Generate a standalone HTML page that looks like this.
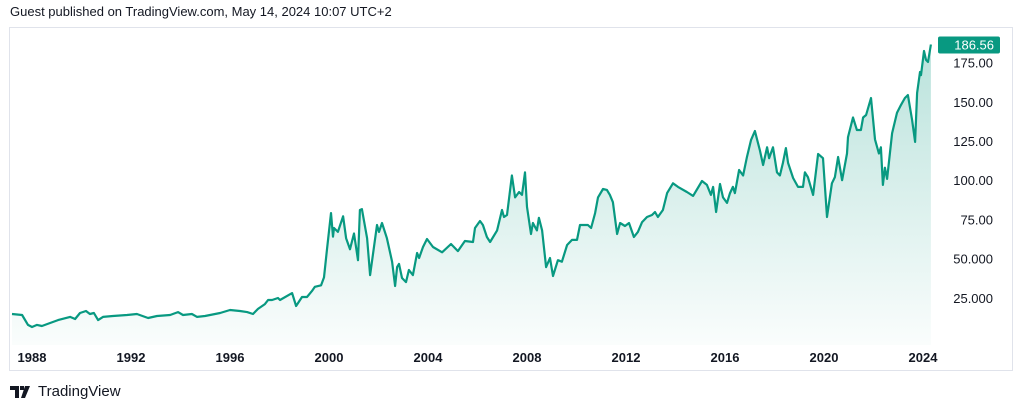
<!DOCTYPE html>
<html><head><meta charset="utf-8"><style>
body{margin:0;background:#fff;width:1024px;height:410px;overflow:hidden;font-family:"Liberation Sans",sans-serif;}
#hdr{position:absolute;left:10px;top:4px;font-size:13px;color:#131722;}
#box{position:absolute;left:9px;top:27px;width:1004px;height:344px;border:1px solid #e0e3eb;box-sizing:border-box;}
#logo{position:absolute;left:10px;top:383px;font-size:15px;color:#131722;display:flex;align-items:center;gap:6px;}
svg{position:absolute;left:0;top:0;}
</style></head><body>
<div id="hdr">Guest published on TradingView.com, May 14, 2024 10:07 UTC+2</div>
<div id="box"></div>
<svg id="chart" width="1024" height="410">
<defs><linearGradient id="g" x1="0" y1="0" x2="0" y2="1">
<stop offset="0" stop-color="#089981" stop-opacity="0.28"/>
<stop offset="1" stop-color="#089981" stop-opacity="0.02"/></linearGradient></defs>
</svg>
<div id="logo"><svg style="position:static" width="22" height="12" viewBox="0 0 22 12"><path d="M0 0h9v12H5V4H0z M10 0h4v4h-4z M15 0h5l-5 12h-4z" fill="#131722"/></svg><span>TradingView</span></div>
<script>
const years=[1987.19,1987.60,1987.84,1988.00,1988.20,1988.40,1988.73,1989.05,1989.54,1989.74,1989.94,1990.18,1990.34,1990.50,1990.67,1990.87,1991.27,1991.84,1992.24,1992.69,1993.05,1993.58,1993.90,1994.10,1994.46,1994.67,1994.99,1995.60,1996.00,1996.40,1996.69,1996.93,1997.13,1997.41,1997.54,1997.70,1997.94,1998.02,1998.51,1998.67,1998.91,1999.11,1999.31,1999.43,1999.68,1999.80,1999.92,2000.08,2000.16,2000.20,2000.36,2000.57,2000.69,2000.85,2001.01,2001.17,2001.25,2001.33,2001.54,2001.66,2001.94,2002.02,2002.14,2002.34,2002.55,2002.67,2002.75,2002.83,2002.95,2003.11,2003.23,2003.39,2003.56,2003.64,2003.80,2003.96,2004.20,2004.57,2004.93,2005.21,2005.49,2005.82,2005.90,2006.10,2006.22,2006.38,2006.51,2006.79,2006.99,2007.07,2007.19,2007.39,2007.52,2007.68,2007.80,2007.92,2008.00,2008.16,2008.24,2008.40,2008.48,2008.61,2008.77,2008.93,2009.05,2009.25,2009.41,2009.62,2009.82,2010.02,2010.14,2010.46,2010.59,2010.75,2010.87,2011.07,2011.23,2011.35,2011.47,2011.64,2011.76,2011.96,2012.12,2012.32,2012.48,2012.65,2012.85,2013.05,2013.17,2013.29,2013.49,2013.66,2013.90,2014.10,2014.46,2014.71,2015.07,2015.27,2015.43,2015.52,2015.64,2015.80,2015.92,2016.08,2016.20,2016.32,2016.40,2016.57,2016.73,2016.89,2017.05,2017.21,2017.41,2017.54,2017.70,2017.78,2017.94,2018.10,2018.22,2018.34,2018.46,2018.55,2018.75,2018.95,2019.15,2019.23,2019.35,2019.56,2019.76,2019.96,2020.12,2020.32,2020.44,2020.57,2020.73,2020.93,2020.97,2021.17,2021.33,2021.49,2021.58,2021.70,2021.90,2022.06,2022.22,2022.30,2022.38,2022.46,2022.55,2022.75,2022.95,2023.11,2023.27,2023.39,2023.56,2023.68,2023.76,2023.88,2023.92,2024.04,2024.12,2024.20,2024.32];
const prices=[14.7,14.0,7.7,6.4,7.7,7.0,8.9,10.8,12.8,11.5,15.3,16.6,14.7,15.3,10.8,12.8,13.4,14.0,14.7,12.1,13.4,14.0,15.9,14.0,14.7,12.8,13.4,15.3,17.2,16.6,15.9,14.7,17.9,21.0,23.6,23.6,24.9,23.6,28,19.8,25.5,25.5,29.3,32,33,38,56,79,64,69.5,67,77,63,56,66,49,81,81.6,63,39.5,71.4,67,72.7,63,48,32.5,44.6,46.6,37.6,35,42.7,39.5,53.6,50.4,57.4,62.5,57.4,54,59.3,54.8,61.2,60.6,69.5,74,71.4,63.8,60.6,68,81,76.5,77.8,103,89,92.5,90.6,105,83,65.7,72.7,68,76,68,44.6,50.4,38.9,49,48,58.7,61.9,61.9,71.4,71.4,69.5,79,89,94.4,93.8,90.6,86,65.7,72.7,70.8,72.7,63.8,67,73.3,76.5,77.8,79.7,76.5,81,91.8,98,95.7,92.5,90,99.5,97,90.6,95.7,79.7,97.6,89,85.5,91.8,95.7,91.8,106.5,103,115,125.6,131.4,119,109.7,121,114,121,105,103,111,120.5,111,101.4,95.7,95.7,105,102,90.6,116.7,114,76.5,98,102,114.8,100,117,127.5,140,132,132,140,141.6,152.4,126,117,121,97,108,100.8,130,143,148,152.4,154.3,138.4,124.4,155.6,169,167,182.4,176.7,175.4,186.56];
const priceTicks=[25,50,75,100,125,150,175];
const priceTickLabels=["25.000","50.000","75.00","100.00","125.00","150.00","175.00"];
const yearTicks=[1988,1992,1996,2000,2004,2008,2012,2016,2020,2024];
const lastLabel="186.56";
const X=t=>32+(t-1988)*24.75;
const Y=v=>337-v*1.568;
const NS="http://www.w3.org/2000/svg";
const svg=document.getElementById('chart');
function mk(tag,at){const e=document.createElementNS(NS,tag);for(const k in at)e.setAttribute(k,at[k]);svg.appendChild(e);return e;}
let d='';years.forEach((t,i)=>{d+=(i?'L':'M')+X(t).toFixed(1)+' '+Y(prices[i]).toFixed(1);});
const area=mk('path',{d:d+'L'+X(years[years.length-1]).toFixed(1)+' 345L'+X(years[0]).toFixed(1)+' 345Z',fill:'url(#g)'});


const line=mk('path',{d:d,fill:'none',stroke:'#089981','stroke-width':2.2,'stroke-linejoin':'round'});


priceTicks.forEach((v,i)=>{const t=mk('text',{x:993,y:Y(v)+5,'text-anchor':'end','font-size':13,fill:'#131722','font-family':'Liberation Sans, sans-serif'});t.textContent=priceTickLabels[i];

});
yearTicks.forEach(y=>{const t=mk('text',{x:X(y),y:362,'text-anchor':'middle','font-size':13,'font-weight':'bold',fill:'#131722','font-family':'Liberation Sans, sans-serif'});t.textContent=y;

});
const lp=prices[prices.length-1];
const badge=mk('rect',{x:938,y:Y(lp)-8,width:62,height:17,rx:2,fill:'#089981'});


const bt=mk('text',{x:994,y:Y(lp)+5,'text-anchor':'end','font-size':13,fill:'#fff','font-family':'Liberation Sans, sans-serif'});bt.textContent=lastLabel;


</script>
</body></html>
